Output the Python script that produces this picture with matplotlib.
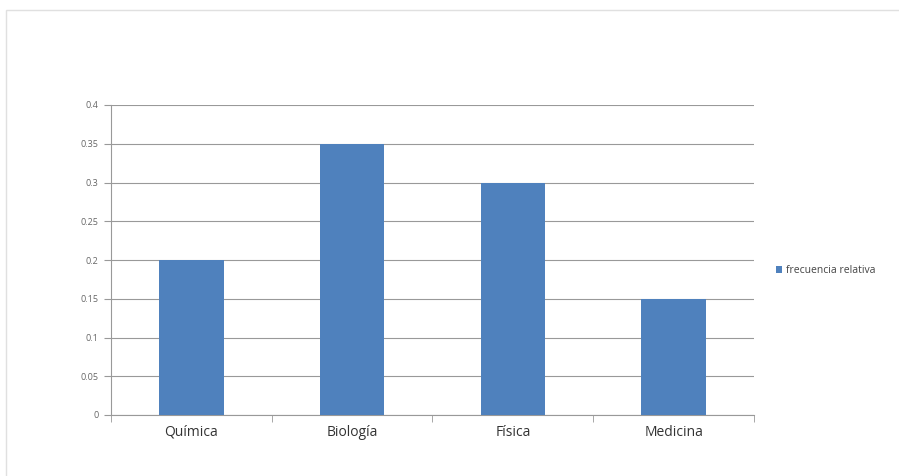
import matplotlib
matplotlib.use("Agg")
import matplotlib.pyplot as plt
from matplotlib.patches import Rectangle

categorias = ["Química", "Biología", "Física", "Medicina"]
frecuencia_relativa = [0.2, 0.35, 0.3, 0.15]
yticks = [0, 0.05, 0.1, 0.15, 0.2, 0.25, 0.3, 0.35, 0.4]
ytick_labels = ["0", "0.05", "0.1", "0.15", "0.2", "0.25", "0.3", "0.35", "0.4"]

plt.rcParams['font.family'] = ['Open Sans', 'DejaVu Sans']

fig = plt.figure(figsize=(8.99, 4.76), dpi=100)
# light frame round the chart area
fig.patches.append(Rectangle((6 / 899, -0.05), 1.0, 1.05 - 10 / 476, transform=fig.transFigure,
                             fill=False, edgecolor="#e0e0e0", linewidth=1.0))

ax = fig.add_axes([111 / 899, 61 / 476, 643 / 899, 310 / 476])
x = list(range(len(categorias)))
ax.bar(x, frecuencia_relativa, width=0.4, color="#4F81BD", zorder=3,
       label="frecuencia relativa")

ax.set_xlim(-0.5, len(categorias) - 0.5)
ax.set_ylim(0, 0.4)
ax.set_yticks(yticks)
ax.set_yticklabels(ytick_labels, fontsize=6.5, color="#666666")
ax.set_xticks(x)
ax.set_xticklabels(categorias, fontsize=10, color="#333333")
ax.tick_params(axis="x", length=0, pad=7)
ax.tick_params(axis="y", length=5, color="#999999", pad=4)
# boundary ticks between categories
ax.set_xticks([i - 0.5 for i in range(len(categorias) + 1)], minor=True)
ax.tick_params(axis="x", which="minor", length=5, color="#999999")

ax.grid(axis="y", color="#999999", linewidth=0.8, zorder=0)
for side in ["top", "right"]:
    ax.spines[side].set_visible(False)
ax.spines["left"].set_color("#999999")
ax.spines["bottom"].set_color("#999999")

ax.legend(loc="center left", bbox_to_anchor=(1.02, 0.465), frameon=False,
          fontsize=7.5, handlelength=0.6, handleheight=0.6, handletextpad=0.3,
          labelcolor="#444444")

fig.savefig("out.png", dpi=100)
